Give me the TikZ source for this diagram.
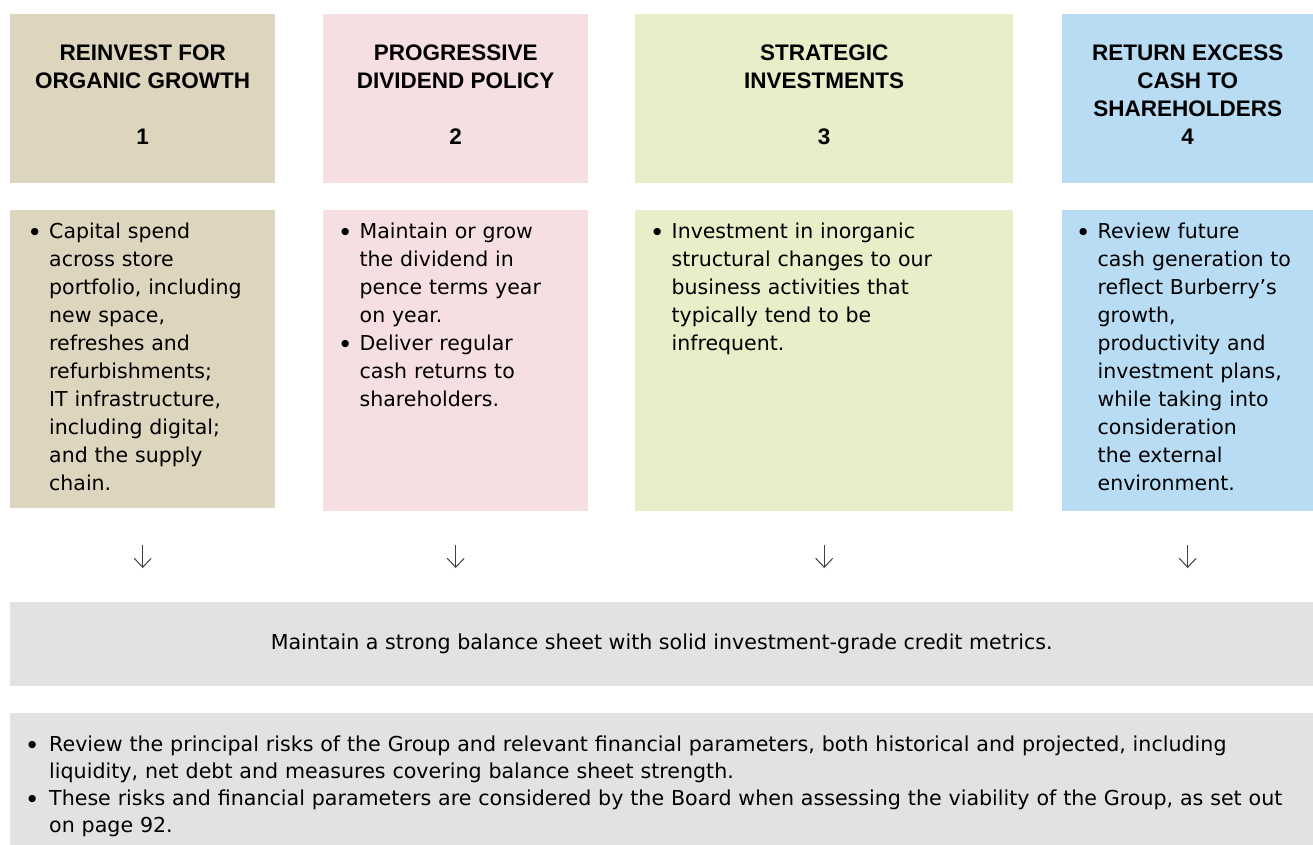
\documentclass[tikz,border=0pt]{standalone}
\usepackage{fontspec}
\setmainfont{DejaVu Sans}
\newfontfamily\headfont{Liberation Sans}
\usetikzlibrary{positioning,arrows.meta}

\definecolor{taupe}{HTML}{DDD5BD}
\definecolor{blush}{HTML}{F6DFE3}
\definecolor{lime}{HTML}{E8EEC8}
\definecolor{sky}{HTML}{B8DCF4}
\definecolor{mist}{HTML}{E2E2E2}
\newcommand{\dotmark}{\makebox[7pt][c]{\raisebox{3.8pt}{\fontsize{9.5}{9.5}\selectfont ●}}}

\begin{document}
\begin{tikzpicture}[x=1pt,y=-1pt,
        head/.style={anchor=north west,inner sep=0pt,minimum height=169pt,
            text height=46pt,text depth=123pt,
            font=\headfont\bfseries\fontsize{22.5}{28}\selectfont},
        body/.style={anchor=north west,inner ysep=0pt,align=left,text height=28pt,
            font=\fontsize{20.5}{28}\selectfont},
        band/.style={anchor=north west,fill=mist,inner ysep=0pt,minimum width=1303pt,
            font=\fontsize{20.6}{27}\selectfont},
        down/.style={draw=black!75,line width=1pt,-{Straight Barb[length=9pt,width=17pt]}}]
    \useasboundingbox (0,0) rectangle (1313,845);
    % the four headers
    \node [head,fill=taupe,minimum width=265pt] (h1) at (10,14)
        {\begin{tabular}[t]{@{}c@{}}REINVEST FOR\\ORGANIC GROWTH\\[28pt]1\end{tabular}};
    \node [head,fill=blush,minimum width=265pt] (h2) at (323,14)
        {\begin{tabular}[t]{@{}c@{}}PROGRESSIVE\\DIVIDEND POLICY\\[28pt]2\end{tabular}};
    \node [head,fill=lime,minimum width=378pt] (h3) at (635,14)
        {\begin{tabular}[t]{@{}c@{}}STRATEGIC\\INVESTMENTS\\[28pt]3\end{tabular}};
    \node [head,fill=sky,minimum width=251pt] (h4) at (1062,14)
        {\begin{tabular}[t]{@{}c@{}}RETURN EXCESS\\CASH TO\\SHAREHOLDERS\\4\end{tabular}};
    % the bullet boxes
    \node [body,fill=taupe,inner xsep=21pt,text width=223pt,text depth=270pt] (b1) at (10,210)
        {\begin{tabular}[t]{@{}l@{\hspace{11pt}}l@{}}
            \dotmark & Capital spend\\
            & across store\\
            & portfolio, including\\
            & new space,\\
            & refreshes and\\
            & refurbishments;\\
            & IT infrastructure,\\
            & including digital;\\
            & and the supply\\
            & chain.
        \end{tabular}};
    \node [body,fill=blush,inner xsep=18.5pt,text width=228pt,text depth=273pt] (b2) at (323,210)
        {\begin{tabular}[t]{@{}l@{\hspace{11pt}}l@{}}
            \dotmark & Maintain or grow\\
            & the dividend in\\
            & pence terms year\\
            & on year.\\
            \dotmark & Deliver regular\\
            & cash returns to\\
            & shareholders.
        \end{tabular}};
    \node [body,fill=lime,inner xsep=18.5pt,text width=341pt,text depth=273pt] (b3) at (635,210)
        {\begin{tabular}[t]{@{}l@{\hspace{11pt}}l@{}}
            \dotmark & Investment in inorganic\\
            & structural changes to our\\
            & business activities that\\
            & typically tend to be\\
            & infrequent.
        \end{tabular}};
    \node [body,fill=sky,inner xsep=17.5pt,text width=216pt,text depth=273pt] (b4) at (1062,210)
        {\begin{tabular}[t]{@{}l@{\hspace{11pt}}l@{}}
            \dotmark & Review future\\
            & cash generation to\\
            & reflect Burberry’s\\
            & growth,\\
            & productivity and\\
            & investment plans,\\
            & while taking into\\
            & consideration\\
            & the external\\
            & environment.
        \end{tabular}};
    % arrows down to the balance sheet band
    \foreach \i in {1,...,4}{
        \coordinate (a\i) at (b\i.south |- 0,545);
        \coordinate (z\i) at (b\i.south |- 0,568);
        \draw [down] (a\i) -- (z\i);
    }
    \node [band,minimum height=84pt] (m1) at (10,602)
        {Maintain a strong balance sheet with solid investment-grade credit metrics.};
    \node [band,align=left,inner xsep=18.5pt,text width=1266pt,text height=38pt,text depth=94pt] (m2) at (10,713)
        {\begin{tabular}[t]{@{}l@{\hspace{13.5pt}}l@{}}
            \dotmark & Review the principal risks of the Group and relevant financial parameters, both historical and projected, including\\
            & liquidity, net debt and measures covering balance sheet strength.\\
            \dotmark & These risks and financial parameters are considered by the Board when assessing the viability of the Group, as set out\\
            & on page 92.
        \end{tabular}};
\end{tikzpicture}
\end{document}
